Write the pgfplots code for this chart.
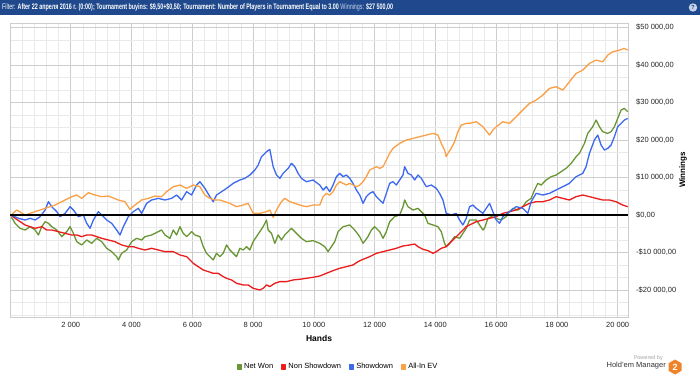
\documentclass[border=0pt]{standalone}
\usepackage{fontspec}
\setmainfont{Liberation Sans}
\usepackage{graphicx}
\usepackage{pgfplots}
\pgfplotsset{compat=1.18}
\definecolor{hdr}{RGB}{31,73,140}
\definecolor{hdrlight}{RGB}{200,212,235}
\definecolor{cgreen}{RGB}{104,150,52}
\definecolor{cred}{RGB}{235,28,28}
\definecolor{cblue}{RGB}{60,105,240}
\definecolor{corange}{RGB}{250,160,70}
\definecolor{gmaj}{RGB}{205,205,205}
\definecolor{gmin}{RGB}{233,233,233}
\definecolor{hmorange}{RGB}{240,130,40}
\begin{document}
\begin{tikzpicture}[x=1pt,y=1pt]
\path[fill=white] (0,0) rectangle (700,376);
\fill[hdr] (0,361) rectangle (700,376);
\node[anchor=west, inner sep=0pt, text=white] at (2,368.5) {\fontsize{8}{9}\selectfont\resizebox{391pt}{\height}{Filter: \textbf{After 22 апреля 2016 г. (0:00); Tournament buyins: \$9,50+\$0,50; Tournament: Number of Players in Tournament Equal to 3.00} \textcolor{hdrlight}{Winnings:} \textbf{\$27 500,00}}};
\fill[hdrlight] (693,368.5) circle (4.2);
\node[text=hdr, inner sep=0pt] at (693,368.5) {\fontsize{6}{7}\selectfont\textbf{?}};
\begin{axis}[
  at={(10pt,59pt)}, anchor=south west,
  scale only axis, width=618pt, height=294pt,
  xmin=0, xmax=20340, ymin=-27200, ymax=51200,
  scaled ticks=false,
  axis line style={draw=gmaj},
  xtick={0,2000,4000,6000,8000,10000,12000,14000,16000,18000,20000},
  xticklabels={,2 000,4 000,6 000,8 000,10 000,12 000,14 000,16 000,18 000,20 000},
  minor xtick={400,800,...,20000},
  ytick={-20000,-10000,0,10000,20000,30000,40000,50000},
  yticklabels={{-\$20 000,00},{-\$10 000,00},{\$0,00},{\$10 000,00},{\$20 000,00},{\$30 000,00},{\$40 000,00},{\$50 000,00}},
  minor ytick={-26666.67,-23333.33,-16666.67,-13333.33,-6666.67,-3333.33,3333.33,6666.67,13333.33,16666.67,23333.33,26666.67,33333.33,36666.67,43333.33,46666.67},
  yticklabel pos=right,
  major tick length=0pt, minor tick length=0pt,
  grid=both,
  major grid style={gmaj, line width=0.6pt},
  minor grid style={gmin, line width=0.6pt},
  ticklabel style={font=\fontsize{7.5}{9}\selectfont, text=black!85},
  yticklabel style={anchor=west, inner sep=0pt, xshift=8pt},
  xticklabel style={inner sep=0pt, yshift=-5pt},
  xlabel={\textbf{Hands}},
  xlabel style={at={(axis description cs:0.5,0)}, anchor=center, yshift=-21pt, font=\fontsize{8.5}{10}\selectfont},
  ylabel={\textbf{Winnings}},
  ylabel style={at={(axis description cs:1,0.5)}, anchor=center, yshift=-55pt, font=\fontsize{8}{10}\selectfont},
  legend columns=4,
  legend style={at={(0.531,-0.170)}, anchor=center, draw=none, fill=none,
    font=\fontsize{7.5}{9}\selectfont, inner sep=0pt,
    /tikz/every even column/.append style={column sep=6pt}},
  legend image code/.code={\fill[#1] (0pt,-2pt) rectangle (4pt,2pt);},
  every axis plot/.append style={line width=1.3pt, line join=round},
]
\addplot[cgreen] coordinates {
(38,-440) (169,-2220) (333,-3550) (498,-4000) (662,-3110) (826,-4000) (936,-5330) (1046,-3110) (1155,-1780) (1265,-2220)
(1374,-3110) (1539,-4000) (1703,-5770) (1867,-4440) (1977,-3110) (2087,-4890) (2196,-7110) (2360,-7990) (2525,-6660) (2689,-7550)
(2854,-6220) (3018,-7110) (3182,-8880) (3347,-9770) (3511,-11100) (3566,-11990) (3675,-10220) (3840,-9330) (4004,-7110) (4168,-6220)
(4333,-6660) (4442,-5770) (4661,-5330) (4881,-4440) (4990,-4000) (5100,-5330) (5264,-6220) (5374,-4000) (5483,-5330) (5593,-3110)
(5702,-4890) (5812,-5770) (5976,-4440) (6086,-5330) (6250,-5770) (6360,-8440) (6469,-10220) (6579,-11100) (6688,-11990) (6798,-10220)
(6908,-11100) (7017,-10220) (7127,-7990) (7236,-9330) (7346,-10220) (7455,-11100) (7565,-8880) (7675,-9330) (7784,-8440) (7894,-9330)
(8003,-7110) (8113,-5770) (8222,-4440) (8332,-3110) (8442,-1330) (8496,-4000) (8606,-4890) (8716,-7550) (8825,-5330) (8935,-6660)
(9044,-5330) (9154,-4440) (9263,-3550) (9373,-4440) (9483,-5330) (9592,-6220) (9756,-7110) (9976,-6840) (10195,-7550) (10359,-8440)
(10469,-9770) (10578,-8440) (10688,-7110) (10797,-4440) (10962,-3110) (11181,-2660) (11345,-4000) (11510,-5770) (11619,-7550) (11783,-5770)
(11893,-4000) (12003,-3110) (12167,-4440) (12277,-6220) (12386,-4440) (12496,-1780) (12660,-440) (12824,0) (12934,2220) (12989,4000)
(13098,2220) (13263,1330) (13427,1780) (13537,890) (13646,0) (13756,-2220) (13920,-2660) (14084,-3110) (14194,-4440) (14303,-7550)
(14358,-8440) (14468,-7550) (14632,-5770) (14797,-6220) (14906,-4890) (15016,-3550) (15125,-1330) (15345,-1330) (15454,-2660) (15564,-4000)
(15618,-3550) (15728,-890) (15838,-440) (16002,-890) (16166,-1330) (16331,-440) (16440,890) (16550,1780) (16714,1330) (16878,2220)
(16988,3550) (17152,4440) (17262,6660) (17372,8440) (17481,7990) (17645,9330) (17810,10220) (17974,10660) (18138,11550) (18303,12440)
(18467,13770) (18632,15550) (18741,16430) (18906,19100) (19015,21760) (19179,23540) (19289,25320) (19399,23540) (19508,22210) (19673,21760)
(19782,22210) (19892,23540) (20001,25760) (20111,27980) (20220,28430) (20330,27540)
};
\addlegendentry{Net Won}
\addplot[cred] coordinates {
(38,0) (169,-890) (333,-1780) (498,-2660) (662,-3110) (826,-3550) (1046,-3110) (1210,-4000) (1374,-4000) (1593,-4440)
(1813,-4890) (2032,-5330) (2196,-5330) (2360,-5770) (2525,-5330) (2689,-5330) (2854,-5770) (3018,-6220) (3237,-6660) (3456,-7110)
(3675,-7990) (3894,-8440) (4059,-8440) (4223,-8880) (4442,-9330) (4661,-8880) (4881,-9330) (5100,-9770) (5374,-9770) (5593,-10660)
(5812,-11100) (6031,-12880) (6195,-13770) (6360,-14660) (6524,-15100) (6688,-15550) (6853,-15550) (7017,-16430) (7127,-16880) (7291,-17320)
(7455,-18210) (7675,-18650) (7839,-18650) (8003,-19540) (8222,-19990) (8332,-19540) (8442,-18650) (8551,-19100) (8716,-18210) (8880,-17770)
(9099,-17770) (9318,-17320) (9537,-17140) (9756,-16880) (9976,-16610) (10195,-16260) (10414,-15550) (10633,-14830) (10852,-14210) (11071,-13770)
(11290,-13320) (11455,-12440) (11619,-11810) (11838,-11100) (12057,-10220) (12277,-9770) (12496,-9330) (12715,-8880) (12934,-8260) (13153,-7990)
(13318,-7730) (13427,-8440) (13591,-9150) (13756,-9500) (13920,-10220) (14030,-9770) (14194,-8880) (14358,-8440) (14578,-6660) (14797,-4890)
(15016,-3110) (15125,-2660) (15345,-1780) (15564,-1330) (15783,-890) (16002,-440) (16221,440) (16440,890) (16659,1330) (16878,2220)
(17098,3110) (17317,3550) (17536,3550) (17755,4000) (17974,4890) (18193,4440) (18412,4000) (18632,4890) (18851,5330) (19070,4890)
(19289,4440) (19508,4000) (19727,4000) (19946,3550) (20056,3110) (20166,2660) (20330,2220)
};
\addlegendentry{Non Showdown}
\addplot[cblue] coordinates {
(38,0) (279,-890) (498,-1330) (662,-890) (826,-1330) (991,-440) (1155,1330) (1265,3550) (1374,2220) (1539,890)
(1648,-440) (1813,440) (1977,2220) (2087,1330) (2251,-440) (2415,0) (2525,-2220) (2634,-3550) (2744,-1330) (2908,890)
(3018,0) (3182,-1330) (3347,-2220) (3511,-4000) (3621,-5330) (3730,-3110) (3894,-440) (4059,890) (4223,1780) (4333,440)
(4497,3110) (4661,4000) (4881,4440) (5100,4000) (5319,4440) (5483,5330) (5648,4000) (5812,6220) (5976,5330) (6141,7990)
(6250,8880) (6415,7110) (6579,4890) (6688,3550) (6798,5330) (6962,6220) (7127,7110) (7346,8440) (7565,9330) (7729,9770)
(7894,10660) (8058,11990) (8168,13320) (8277,15550) (8442,16880) (8551,17500) (8661,12880) (8770,10660) (8880,9770) (8989,11100)
(9154,12440) (9263,13770) (9373,12880) (9483,11100) (9592,9770) (9756,8880) (9976,9330) (10195,7990) (10304,6660) (10414,7550)
(10523,6220) (10633,7990) (10743,10220) (10852,11100) (10962,10220) (11071,10660) (11181,9770) (11290,8440) (11400,6660) (11510,5330)
(11619,3110) (11729,4890) (11838,5770) (11948,6220) (12057,4890) (12167,4000) (12277,3110) (12386,5770) (12496,8440) (12605,8880)
(12715,7990) (12824,9330) (12934,10660) (12989,12880) (13098,11100) (13208,10660) (13318,9330) (13427,10660) (13537,9770) (13701,7550)
(13865,7990) (14030,7110) (14139,5770) (14249,4000) (14358,440) (14522,0) (14687,440) (14797,-1330) (14906,-2660) (15016,-890)
(15125,2220) (15235,2660) (15345,1780) (15564,440) (15783,3110) (15892,890) (16002,-1330) (16112,-2220) (16221,-440) (16440,890)
(16659,2220) (16878,1780) (17043,440) (17152,3550) (17317,5770) (17536,5330) (17755,5770) (17974,6660) (18193,7550) (18412,8440)
(18632,10220) (18851,11100) (18960,12880) (19070,16430) (19234,19990) (19344,21320) (19454,18650) (19563,17320) (19673,17770) (19782,18650)
(19892,20880) (20001,23540) (20111,24430) (20220,25320) (20330,25760)
};
\addlegendentry{Showdown}
\addplot[corange] coordinates {
(38,0) (224,1330) (498,0) (826,890) (1155,1780) (1484,2660) (1813,4000) (2032,4890) (2196,5330) (2360,4440)
(2580,5950) (2799,5330) (3018,4890) (3237,5060) (3566,4000) (3785,3550) (3949,1510) (4114,2660) (4333,4000) (4552,4440)
(4771,5060) (4990,4890) (5155,6220) (5374,7550) (5593,7990) (5812,7110) (6031,7990) (6250,7550) (6415,5330) (6579,4440)
(6743,4000) (6908,4000) (7072,3550) (7236,3110) (7455,2220) (7675,2660) (7839,3110) (8003,440) (8222,440) (8442,890)
(8551,1330) (8661,-620) (8770,1330) (8935,3550) (9044,4440) (9209,3550) (9373,3110) (9537,2660) (9756,2220) (9976,2660)
(10195,2660) (10304,4890) (10414,5770) (10523,5330) (10633,6220) (10743,7990) (10852,8880) (10962,8440) (11071,7990) (11181,8440)
(11290,7990) (11400,7550) (11510,7990) (11619,8880) (11729,10220) (11838,11990) (11948,12440) (12057,12880) (12167,12440) (12277,12880)
(12386,14660) (12496,16430) (12605,17770) (12824,19100) (13044,19990) (13263,20430) (13482,20880) (13701,21320) (13920,21760) (14084,21320)
(14194,19100) (14303,17320) (14358,15550) (14413,16430) (14522,17770) (14632,19540) (14742,22210) (14851,23980) (15016,24430) (15125,24430)
(15345,24870) (15564,23540) (15783,21320) (15892,22650) (16002,23540) (16221,24870) (16440,24430) (16659,26200) (16878,27980) (17098,29760)
(17317,30650) (17536,31980) (17755,33760) (17974,34200) (18193,33310) (18412,35530) (18632,37750) (18851,38640) (19070,40420) (19289,41310)
(19508,40860) (19673,42640) (19837,43530) (20056,43970) (20220,44420) (20330,43970)
};
\addlegendentry{All-In EV}
\addplot[black, line width=1.5pt, forget plot] coordinates {(0,0) (20340,0)};
\end{axis}
\node[anchor=east, inner sep=0pt, text=black!35] at (663,18) {\fontsize{5.5}{6}\selectfont Powered by};
\node[anchor=east, inner sep=0pt, text=black!80] at (666,10) {\fontsize{7.5}{9}\selectfont Hold'em Manager};
\fill[hmorange] (675,16.5) -- (668.5,12.75) -- (668.5,5.25) -- (675,1.5) -- (681.5,5.25) -- (681.5,12.75) -- cycle;
\node[text=white, inner sep=0pt] at (675,9) {\fontsize{9}{10}\selectfont\textbf{2}};
\end{tikzpicture}
\end{document}
